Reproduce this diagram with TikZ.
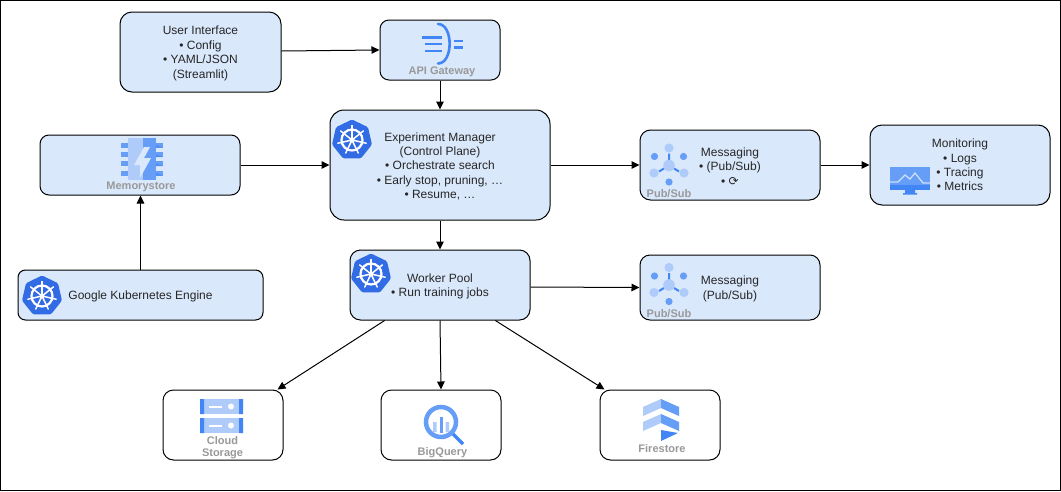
\documentclass[tikz,border=0pt]{standalone}
\usepackage{fontspec}
\setmainfont{Liberation Sans}
\newfontfamily\symfont{DejaVu Sans}
\usetikzlibrary{arrows.meta,calc}
\definecolor{boxfill}{HTML}{DAE8FC}
\definecolor{gdark}{HTML}{4285F4}
\definecolor{gmid}{HTML}{669DF6}
\definecolor{glight}{HTML}{AECBFA}
\definecolor{kblue}{HTML}{326CE5}
\definecolor{cap}{HTML}{999999}
\tikzset{
  x=1pt,y=-1pt,
  box/.style={draw=black,line width=1pt,fill=boxfill,inner sep=0pt},
  boxtext/.style={inner sep=0pt,align=center,yshift=-1.3pt,font=\fontsize{12}{14.4}\selectfont,text=black!85},
  plainbox/.style={box,fill=white},
  iconcap/.style={inner sep=0pt,align=center,text=cap,font=\fontsize{11}{13}\selectfont\bfseries},
  link/.style={draw=black,line width=1pt,-{Triangle[length=8pt,width=7.5pt]}},
  k8s/.pic={
    \fill[kblue,rounded corners=1.5pt] (90:20.5pt) -- (141.43:20.5pt) -- (192.86:20.5pt) -- (244.29:20.5pt) -- (295.71:20.5pt) -- (347.14:20.5pt) -- (38.57:20.5pt) -- cycle;
    \draw[white,line width=2.2pt] (0,0) circle[radius=10.5];
    \foreach \a in {90,141.43,192.86,244.29,295.71,347.14,38.57}{
      \draw[white,line width=1.5pt,line cap=round] (\a:2pt) -- (\a:14.5pt);
    }
    \fill[white] (0,0) circle[radius=2.5];
  },
  pubsub/.pic={
    \draw[gdark,line width=2pt] (0,-5) -- (0,-12) (-5,3) -- (-10,6) (5,3) -- (10,6);
    \fill[glight] (0,0) circle[radius=5.8] (0,-17.5) circle[radius=4.6] (-15,7.5) circle[radius=4.6] (15,7.5) circle[radius=4.6];
    \fill[gmid] (-14.5,-9) circle[radius=3.6] (14.5,-9) circle[radius=3.6] (0,16.5) circle[radius=3.6];
  },
}
\begin{document}
\begin{tikzpicture}
\useasboundingbox (0,0) rectangle (1061,491);
\draw[black,line width=1pt] (0.5,0.5) rectangle (1060.5,490.5);

% boxes
\node[box,rounded corners=12pt,minimum width=161,minimum height=80,label={[boxtext]center:{User Interface\\• Config\\• YAML/JSON\\(Streamlit)}}] (ui) at (200.5,52) {};
\node[box,rounded corners=9pt,minimum width=120,minimum height=60] (api) at (440,50) {};
\node[box,rounded corners=14pt,minimum width=220,minimum height=110,label={[boxtext]center:{Experiment Manager\\(Control Plane)\\• Orchestrate search\\• Early stop, pruning, …\\• Resume, …}}] (exp) at (440,165) {};
\node[box,rounded corners=9pt,minimum width=200,minimum height=60] (mem) at (140,165) {};
\node[box,rounded corners=7.5pt,minimum width=245,minimum height=50,label={[boxtext]center:{Google Kubernetes Engine}}] (gke) at (140.5,295) {};
\node[box,rounded corners=10.5pt,minimum width=180,minimum height=70,label={[boxtext]center:{Worker Pool\\• Run training jobs}}] (wrk) at (440,285) {};
\node[box,rounded corners=10.5pt,minimum width=180,minimum height=70,label={[boxtext]center:{Messaging\\• (Pub/Sub)\\• {\symfont ⟳}}}] (msga) at (730,165) {};
\node[box,rounded corners=10pt,minimum width=180,minimum height=65,label={[boxtext]center:{Messaging\\(Pub/Sub)}}] (msgb) at (730,287.5) {};
\node[box,rounded corners=12pt,minimum width=180,minimum height=80,label={[boxtext,yshift=1.3pt]center:{Monitoring\\• Logs\\• Tracing\\• Metrics}}] (mon) at (960,165) {};
\node[plainbox,rounded corners=10.5pt,minimum width=120,minimum height=70] (gcs) at (223,425) {};
\node[plainbox,rounded corners=10.5pt,minimum width=120,minimum height=70] (bq) at (441,425) {};
\node[plainbox,rounded corners=10.5pt,minimum width=120,minimum height=70] (fs) at (660,425) {};

% connectors
\draw[link] ($(ui.east)+(0,-1)$) -- (api.west);
\draw[link] (api.south) -- (exp.north);
\draw[link] (mem.east) -- (exp.west);
\draw[link] (gke.north) -- (gke.north |- mem.south);
\draw[link] (exp.east) -- (msga.west);
\draw[link] (msga.east) -- (mon.west);
\draw[link] (exp.south) -- (wrk.north);
\draw[link] ($(wrk.east)+(0,2)$) -- (msgb.west);
\draw[link] ($(wrk.south west)!0.194!(wrk.south east)$) -- ($(gcs.north east)+(-6,0)$);
\draw[link] (wrk.south) -- (bq.north);
\draw[link] ($(wrk.south west)!0.806!(wrk.south east)$) -- ($(fs.north west)+(5,0)$);

% Kubernetes icons
\pic at (352,140) {k8s};
\pic at (42,296) {k8s};
\pic at (371,274) {k8s};

% API Gateway icon
\draw[gdark,line width=2.4pt] (422,37.3) -- (442,37.3) (425,44) -- (442,44) (425,50.7) -- (442,50.7);
\draw[gdark,line width=2.6pt,line cap=round] (438,24) .. controls (453.5,24) and (453.5,63.5) .. (438,63.5);
\draw[gdark,line width=2.6pt] (453.5,41) -- (463,41) (453.5,47.3) -- (463,47.3);
\node[iconcap] (apicap) at (442,72) {API Gateway};

% Memorystore icon
\fill[glight] (128,138) rectangle (143,180);
\fill[gmid] (143,138) rectangle (156,180);
\foreach \y in {142.5,152,161,170.5}{
  \fill[gmid] (121,\y) rectangle (128,\y+5);
  \fill[gmid] (156,\y) rectangle (163,\y+5);
  \fill[gdark!70!gmid] (156,\y+2.5) -- (163,\y+5) -- (156,\y+5) -- cycle;
}
\fill[boxfill] (144,147) -- (134,165) -- (140,165) -- (140,178) -- (151,158) -- (144,158) -- (150,147) -- cycle;
\node[iconcap] (memcap) at (141,187) {Memorystore};

% Pub/Sub icons
\pic at (669,165.5) {pubsub};
\node[iconcap] (psa) at (669,193.5) {Pub/Sub};
\pic at (669,285) {pubsub};
\node[iconcap] (psb) at (669,313.5) {Pub/Sub};

% Monitoring icon
\fill[gmid] (890,167) rectangle (930,185);
\fill[gdark] (890,185) rectangle (930,190);
\fill[gdark] (905,190) rectangle (915,193) (903,193) rectangle (917,194.5);
\draw[glight!60!white,line width=1.2pt] (890,182) -- (898,182) -- (905,175) -- (910,179) -- (915,173) -- (923,183) -- (930,183);

% Cloud Storage icon
\foreach \y in {399,418}{
  \fill[glight] (200,\y) rectangle (243,\y+15);
  \fill[gdark] (200,\y) rectangle (204,\y+15) (239,\y) rectangle (243,\y+15);
  \fill[white] (209,\y+6.5) rectangle (222,\y+8.5);
  \fill[white] (231,\y+7.5) circle[radius=3];
}
\node[iconcap,font=\fontsize{11}{12.5}\selectfont\bfseries] (gcscap) at (222.5,447.5) {Cloud\\Storage};

% BigQuery icon
\draw[gdark,line width=3.5pt,line cap=butt] (452,433) -- (463,444);
\draw[gmid,line width=4.5pt] (441,422) circle[radius=15];
\fill[glight] (433,422) rectangle (436.5,432) (445.5,422) rectangle (449,432);
\fill[gmid] (439.5,417) rectangle (443,433);
\node[iconcap] (bqcap) at (442.5,453) {BigQuery};

% Firestore icon
\foreach \d in {0,15}{
  \fill[glight] (661,399+\d) -- (661,408+\d) -- (643,416+\d) -- (643,407+\d) -- cycle;
  \fill[gmid] (661,399+\d) -- (661,408+\d) -- (679,416+\d) -- (679,407+\d) -- cycle;
}
\fill[gdark] (661,430) -- (678,433) -- (661,441) -- cycle;
\node[iconcap] (fscap) at (662,448.5) {Firestore};
\end{tikzpicture}
\end{document}
